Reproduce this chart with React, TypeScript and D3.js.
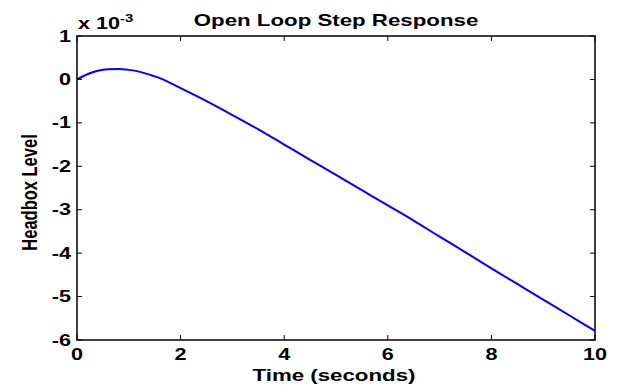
import React from "react";
import * as d3 from "d3";

const timeSeconds = [0, 0.2, 0.4, 0.6, 0.8, 1.0, 1.2, 1.4, 1.6, 1.8, 2.0, 2.5, 3.0, 3.5, 4.0, 4.5, 5.0, 5.5, 6.0, 6.5, 7.0, 7.5, 8.0, 8.5, 9.0, 9.5, 10];
const headboxLevelE3 = [0, 0.12, 0.2, 0.235, 0.24, 0.22, 0.18, 0.11, 0.03, -0.08, -0.2, -0.5, -0.82, -1.15, -1.5, -1.85, -2.2, -2.55, -2.9, -3.25, -3.62, -3.98, -4.35, -4.71, -5.07, -5.43, -5.79];
const xTicks = [0, 2, 4, 6, 8, 10];
const yTicks = [1, 0, -1, -2, -3, -4, -5, -6];

const W = 617, H = 387;
const L = 77, R = 595, T = 36, B = 340;
const SX = 1.35;
const FONT = "'Liberation Sans', Arial, sans-serif";

export default function App() {
  const x = d3.scaleLinear().domain([0, 10]).range([L, R]);
  const y = d3.scaleLinear().domain([-6, 1]).range([B, T]);
  const pts = timeSeconds.map((t, i) => [t, headboxLevelE3[i]] as [number, number]);
  const line = d3.line<[number, number]>()
    .x(d => x(d[0]))
    .y(d => y(d[1]))
    .curve(d3.curveMonotoneX);
  const tk = 5;
  const txt = (px: number, py: number, s: string, size: number, anchor: string, extra = "") => (
    <text
      transform={`translate(${px},${py}) scale(${SX},1)${extra}`}
      textAnchor={anchor}
      fontFamily={FONT}
      fontWeight="bold"
      fontSize={size}
      fill="#000"
    >
      {s}
    </text>
  );
  return (
    <svg width={W} height={H} style={{ position: "absolute", left: 0, top: 0, background: "#fff" }}>
      <rect x={0} y={0} width={W} height={H} fill="#fff" />
      <path d={line(pts) || ""} fill="none" stroke="#0000ff" strokeWidth={2} />
      {xTicks.map(t => (
        <g key={"x" + t}>
          <line x1={x(t)} x2={x(t)} y1={B} y2={B - tk} stroke="#000" strokeWidth={1} />
          <line x1={x(t)} x2={x(t)} y1={T} y2={T + tk} stroke="#000" strokeWidth={1} />
          {txt(x(t), 360, String(t), 16, "middle")}
        </g>
      ))}
      {yTicks.map(v => (
        <g key={"y" + v}>
          <line x1={L} x2={L + tk} y1={y(v)} y2={y(v)} stroke="#000" strokeWidth={1} />
          <line x1={R} x2={R - tk} y1={y(v)} y2={y(v)} stroke="#000" strokeWidth={1} />
          {txt(71, y(v) + 5.5, String(v), 16, "end")}
        </g>
      ))}
      <rect x={L} y={T} width={R - L} height={B - T} fill="none" stroke="#000" strokeWidth={1.5} />
      {txt(78, 29, "x 10", 16, "start")}
      {txt(120, 22, "-3", 11, "start")}
      {txt(336, 26, "Open Loop Step Response", 16.5, "middle")}
      {txt(334, 381, "Time (seconds)", 16.5, "middle")}
      {txt(37, 192.5, "Headbox Level", 16.5, "middle", " rotate(-90)")}
    </svg>
  );
}
